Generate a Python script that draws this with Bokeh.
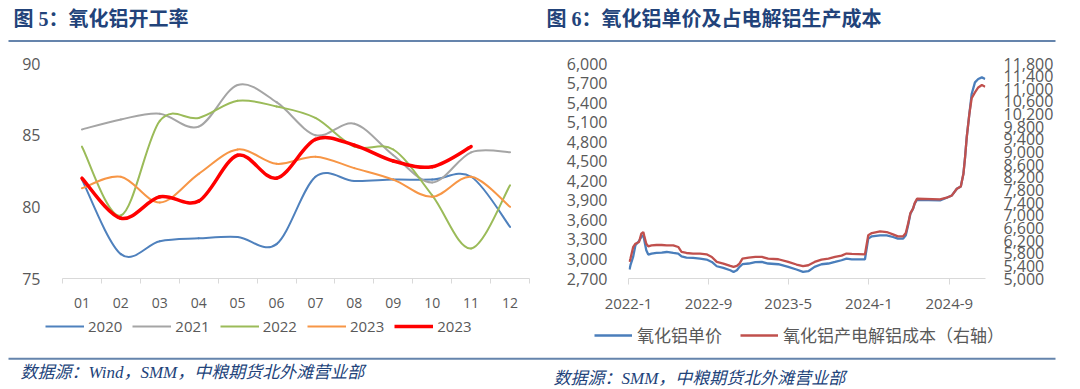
import pandas as pd
from bokeh.plotting import figure
from bokeh.models import (Range1d, LinearAxis, FixedTicker, NumeralTickFormatter,
                          Legend, LegendItem, ColumnDataSource)
from bokeh.layouts import column, row
from bokeh.embed import file_html
from bokeh.resources import INLINE
from bokeh.core.properties import value

# ---------------- Figure 5 data: alumina operating rate (%) ----------------
months = ["01", "02", "03", "04", "05", "06", "07", "08", "09", "10", "11", "12"]
rate_2020 = [81.9, 76.7, 77.6, 77.8, 77.9, 77.4, 82.1, 81.8, 81.9, 81.9, 82.1, 78.6]
rate_2021 = [85.4, 86.1, 86.5, 85.6, 88.5, 87.3, 85.0, 85.8, 83.6, 81.7, 83.8, 83.8]
rate_2022 = [84.2, 79.4, 86.0, 86.2, 87.4, 87.0, 86.2, 84.2, 84.0, 80.8, 77.1, 81.5]
rate_2023 = [81.3, 82.1, 80.3, 82.3, 84.0, 83.0, 83.5, 82.7, 81.9, 80.7, 82.1, 80.0]
rate_2023b = [82.0, 79.2, 80.7, 80.4, 83.6, 82.0, 84.7, 84.3, 83.2, 82.8, 84.2]
series_labels = ["2020", "2021", "2022", "2023", "2023"]
rate_ticks = [75, 80, 85, 90]

# ---------------- Figure 6 data: alumina price & cost per ton of aluminium ----------------
dates = ["2022-01-04", "2022-01-07", "2022-01-15", "2022-01-22", "2022-02-02", "2022-02-09",
         "2022-02-15", "2022-02-18", "2022-02-24", "2022-03-02", "2022-03-12", "2022-03-27",
         "2022-04-12", "2022-04-27", "2022-05-17", "2022-06-01", "2022-06-11", "2022-06-26",
         "2022-07-16", "2022-08-06", "2022-08-26", "2022-09-11", "2022-09-26", "2022-10-16",
         "2022-11-06", "2022-11-16", "2022-11-26", "2022-12-04", "2022-12-13", "2023-01-01",
         "2023-01-21", "2023-02-10", "2023-03-01", "2023-04-01", "2023-05-01", "2023-05-26",
         "2023-06-15", "2023-07-01", "2023-07-20", "2023-08-10", "2023-08-31", "2023-09-20",
         "2023-10-10", "2023-10-25", "2023-11-10", "2023-12-20", "2023-12-30", "2024-01-10",
         "2024-02-04", "2024-02-24", "2024-03-14", "2024-03-29", "2024-04-14", "2024-04-22",
         "2024-04-29", "2024-05-06", "2024-05-14", "2024-05-19", "2024-05-26", "2024-08-04",
         "2024-08-24", "2024-09-09", "2024-09-24", "2024-10-06", "2024-10-14", "2024-10-19",
         "2024-10-24", "2024-11-01", "2024-11-08", "2024-11-18", "2024-11-28", "2024-12-09",
         "2024-12-19"]
alumina_price = [2838, 2904, 3031, 3210, 3276, 3337, 3363, 3286, 3133, 3067, 3083, 3092,
                 3098, 3107, 3092, 3083, 3041, 3021, 3016, 3006, 2991, 2954, 2888, 2862,
                 2827, 2801, 2827, 2878, 2919, 2930, 2950, 2954, 2930, 2919, 2878, 2838,
                 2801, 2812, 2878, 2919, 2930, 2954, 2980, 3006, 2995, 2995, 3312, 3348,
                 3363, 3363, 3337, 3312, 3312, 3363, 3516, 3695, 3772, 3848, 3909, 3899,
                 3940, 3975, 4078, 4113, 4308, 4562, 4868, 5226, 5532, 5710, 5762, 5787,
                 5762]
alumina_cost = [5524, 5631, 5990, 6100, 6154, 6419, 6470, 6340, 6100, 6019, 6050, 6060,
                6060, 6050, 6050, 5997, 5839, 5807, 5789, 5789, 5766, 5681, 5524, 5473,
                5397, 5366, 5400, 5473, 5631, 5662, 5681, 5681, 5631, 5609, 5524, 5442,
                5388, 5419, 5524, 5599, 5631, 5681, 5725, 5789, 5776, 5766, 6366, 6438,
                6492, 6470, 6397, 6334, 6334, 6438, 6735, 7069, 7208, 7384, 7523, 7501,
                7555, 7627, 7839, 7911, 8312, 8835, 9466, 10204, 10700, 10885, 11043, 11119,
                11065]
price_ticks = [2700, 3000, 3300, 3600, 3900, 4200, 4500, 4800, 5100, 5400, 5700, 6000]
cost_ticks = [5000, 5400, 5800, 6200, 6600, 7000, 7400, 7800, 8200, 8600, 9000, 9400,
              9800, 10200, 10600, 11000, 11400, 11800]
date_ticks = ["2022-01-01", "2022-09-01", "2023-05-01", "2024-01-01", "2024-09-01"]
date_tick_labels = ["2022-1", "2022-9", "2023-5", "2024-1", "2024-9"]
legend6 = ["氧化铝单价", "氧化铝产电解铝成本（右轴）"]

title5 = "图 5：氧化铝开工率"
title6 = "图 6：氧化铝单价及占电解铝生产成本"
source5 = "数据源：Wind，SMM，中粮期货北外滩营业部"
source6 = "数据源：SMM，中粮期货北外滩营业部"

TXT = "#595959"
NAVY = "#22437A"
RULE = "#6584AC"
CJK = "Noto Sans CJK SC"
SERIF_CJK = "Liberation Serif, Noto Sans CJK SC"
colors5 = ["#4F81BD", "#A5A5A5", "#9BBB59", "#F79646", "#FF0000"]
widths5 = [2, 2, 2, 2, 3.5]
colors6 = ["#4A7EBB", "#C0504D"]
NAN = float("nan")


def blank(width, height):
    f = figure(width=width, height=height, x_range=Range1d(0, width), y_range=Range1d(height, 0),
               output_backend="svg", toolbar_location=None, x_axis_location=None,
               y_axis_location=None, min_border=0, min_border_left=0, min_border_right=0,
               min_border_top=0, min_border_bottom=0)
    f.grid.visible = False
    f.outline_line_color = None
    f.background_fill_color = "white"
    f.border_fill_color = "white"
    return f


# ---------------- header (titles + rule) ----------------
header = blank(1080, 44)
header.text(x=[13, 546], y=[18.5, 18.5], text=[title5, title6], text_color=NAVY,
            text_font=value(SERIF_CJK), text_font_size="20px", text_font_style="bold",
            text_baseline="middle", text_align="left")
header.segment(x0=[8], y0=[40.5], x1=[1055], y1=[40.5], line_color=RULE, line_width=2)


# ---------------- Figure 5 ----------------
def smooth_segments(xs, ys):
    cols = dict(x0=[], y0=[], x1=[], y1=[], cx0=[], cy0=[], cx1=[], cy1=[])
    n = len(xs)
    for i in range(n - 1):
        xp, yp = (xs[i - 1], ys[i - 1]) if i > 0 else (xs[i], ys[i])
        xn, yn = (xs[i + 2], ys[i + 2]) if i + 2 < n else (xs[i + 1], ys[i + 1])
        cols["x0"].append(xs[i]); cols["y0"].append(ys[i])
        cols["x1"].append(xs[i + 1]); cols["y1"].append(ys[i + 1])
        cols["cx0"].append(xs[i] + (xs[i + 1] - xp) / 6.0)
        cols["cy0"].append(ys[i] + (ys[i + 1] - yp) / 6.0)
        cols["cx1"].append(xs[i + 1] - (xn - xs[i]) / 6.0)
        cols["cy1"].append(ys[i + 1] - (yn - ys[i]) / 6.0)
    return ColumnDataSource(cols)


p5 = figure(width=540, height=270, x_range=Range1d(0.5, 12.5), y_range=Range1d(75, 90),
            output_backend="svg", toolbar_location=None,
            min_border_left=62, min_border_right=11, min_border_top=19, min_border_bottom=34)
p5.grid.visible = False
p5.outline_line_color = None

positions = list(range(1, len(months) + 1))
all_series = [rate_2020, rate_2021, rate_2022, rate_2023, rate_2023b]
for vals, col, w in zip(all_series, colors5, widths5):
    src = smooth_segments(positions[:len(vals)], vals)
    p5.bezier(x0="x0", y0="y0", x1="x1", y1="y1", cx0="cx0", cy0="cy0", cx1="cx1", cy1="cy1",
              source=src, line_color=col, line_width=w, line_cap="round")

xa = p5.xaxis[0]
xa.ticker = FixedTicker(ticks=positions, minor_ticks=[x - 0.5 for x in positions] + [12.5])
xa.major_label_overrides = {pos: m for pos, m in zip(positions, months)}
xa.axis_line_color = "#D9D9D9"
xa.major_tick_out = 0
xa.major_tick_in = 0
xa.minor_tick_out = 5
xa.minor_tick_in = 0
xa.minor_tick_line_color = "#D9D9D9"
xa.major_label_standoff = 14
xa.major_label_text_font = "Open Sans"
xa.major_label_text_font_size = "14px"
xa.major_label_text_color = TXT

ya = p5.yaxis[0]
ya.ticker = FixedTicker(ticks=rate_ticks)
ya.axis_line_color = None
ya.major_tick_line_color = None
ya.minor_tick_line_color = None
ya.major_tick_out = 0
ya.major_label_standoff = 22
ya.major_label_text_font = "Open Sans"
ya.major_label_text_font_size = "16px"
ya.major_label_text_color = TXT

# ---------------- Figure 6 ----------------
x_dates = pd.to_datetime(dates)
p6 = figure(width=540, height=270, x_axis_type="datetime",
            x_range=Range1d(pd.Timestamp("2022-01-01"), pd.Timestamp("2024-12-20")),
            y_range=Range1d(price_ticks[0], price_ticks[-1]),
            output_backend="svg", toolbar_location=None,
            min_border_left=88, min_border_right=95, min_border_top=19, min_border_bottom=36)
p6.grid.visible = False
p6.outline_line_color = None
p6.extra_y_ranges = {"cost": Range1d(cost_ticks[0], cost_ticks[-1])}

p6.line(x=x_dates, y=alumina_price, line_color=colors6[0], line_width=2.3)
p6.line(x=x_dates, y=alumina_cost, y_range_name="cost", line_color=colors6[1], line_width=2.3)

tick_ms = [int(pd.Timestamp(d).value // 10**6) for d in date_ticks]
xa6 = p6.xaxis[0]
xa6.ticker = FixedTicker(ticks=tick_ms, minor_ticks=[])
xa6.major_label_overrides = {t: l for t, l in zip(tick_ms, date_tick_labels)}
xa6.axis_line_color = "#D9D9D9"
xa6.major_tick_line_color = "#D9D9D9"
xa6.major_tick_out = 6
xa6.major_tick_in = 0
xa6.minor_tick_line_color = None
xa6.major_label_standoff = 14
xa6.major_label_text_font = "Open Sans"
xa6.major_label_text_font_size = "15px"
xa6.major_label_text_color = TXT

ya6 = p6.yaxis[0]
ya6.ticker = FixedTicker(ticks=price_ticks)
ya6.formatter = NumeralTickFormatter(format="0,0")
ya6.axis_line_color = None
ya6.major_tick_line_color = None
ya6.minor_tick_line_color = None
ya6.major_tick_out = 0
ya6.major_label_standoff = 21
ya6.major_label_text_font = "Open Sans"
ya6.major_label_text_font_size = "16px"
ya6.major_label_text_color = TXT

ra6 = LinearAxis(y_range_name="cost", ticker=FixedTicker(ticks=cost_ticks),
                 formatter=NumeralTickFormatter(format="0,0"))
ra6.axis_line_color = None
ra6.major_tick_line_color = None
ra6.minor_tick_line_color = None
ra6.major_tick_out = 0
ra6.major_label_standoff = 18
ra6.major_label_text_font = "Open Sans"
ra6.major_label_text_font_size = "16px"
ra6.major_label_text_color = TXT
p6.add_layout(ra6, "right")

# ---------------- footer (legends, rule, sources) ----------------
FH = 75
footer = blank(1080, FH)
items5 = []
for lab, col, w in zip(series_labels, colors5, widths5):
    r = footer.line(x=[NAN], y=[NAN], line_color=col, line_width=w)
    items5.append(LegendItem(label=lab, renderers=[r]))
leg5 = Legend(items=items5, orientation="horizontal", location=(45, FH - 2 - 20),
              glyph_width=39, glyph_height=20, label_height=20, label_standoff=4, spacing=10,
              padding=0, margin=0, border_line_color=None, background_fill_alpha=0,
              label_text_font="Open Sans", label_text_font_size="15px", label_text_color=TXT)
footer.add_layout(leg5)

items6 = []
for lab, col in zip(legend6, colors6):
    r = footer.line(x=[NAN], y=[NAN], line_color=col, line_width=2.3)
    items6.append(LegendItem(label=lab, renderers=[r]))
leg6 = Legend(items=items6, orientation="horizontal", location=(594, FH - 13 - 20),
              glyph_width=38, glyph_height=20, label_height=20, label_standoff=5, spacing=18,
              padding=0, margin=0, border_line_color=None, background_fill_alpha=0,
              label_text_font=CJK, label_text_font_size="17px", label_text_color=TXT)
footer.add_layout(leg6)

footer.segment(x0=[8], y0=[44.3], x1=[1055], y1=[44.3], line_color=RULE, line_width=2)
footer.text(x=[20], y=[57.7], text=[source5], text_color=NAVY, text_font=value(SERIF_CJK),
            text_font_size="17px", text_font_style="italic", text_baseline="middle")
footer.text(x=[553], y=[64], text=[source6], text_color=NAVY, text_font=value(SERIF_CJK),
            text_font_size="17px", text_font_style="italic", text_baseline="middle")

layout = column(header, row(p5, p6), footer)
open("out.html", "w").write(file_html(layout, INLINE))
